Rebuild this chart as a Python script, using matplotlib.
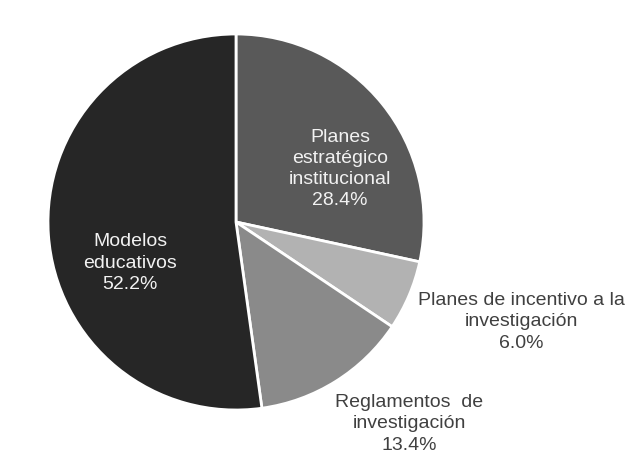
import matplotlib.pyplot as plt

plt.rcParams['font.family'] = ['Liberation Sans', 'DejaVu Sans']

labels = ['Planes\nestratégico\ninstitucional', 'Planes de incentivo a la\ninvestigación',
          'Reglamentos  de\ninvestigación', 'Modelos\neducativos']
values = [28.4, 6.0, 13.4, 52.2]
colors = ['#595959', '#b2b2b2', '#8a8a8a', '#262626']

# label layout (pixel centres in the 631x463 image) and text colours
label_px = [(340, 169), (521, 322), (409, 424), (130, 263)]
text_colors = ['#f2f2f2', '#404040', '#404040', '#f2f2f2']

W, H = 631, 463
cx, cy, r = 236, 222, 188

fig = plt.figure(figsize=(W / 100, H / 100), dpi=100)
ax = fig.add_axes([0, 0, 1, 1])
ax.pie(values, colors=colors, startangle=90, counterclock=False, radius=1,
       wedgeprops=dict(edgecolor='white', linewidth=2))
ax.set_xlim(-cx / r, (W - cx) / r)
ax.set_ylim(-(H - cy) / r, cy / r)
ax.set_aspect('auto')
ax.axis('off')

for lab, val, (px, py), tc in zip(labels, values, label_px, text_colors):
    ax.text((px - cx) / r, -(py - cy) / r, f'{lab}\n{val:.1f}%', ha='center', va='center',
            fontsize=14, color=tc, linespacing=1.33)

fig.savefig('out.png', dpi=100)
